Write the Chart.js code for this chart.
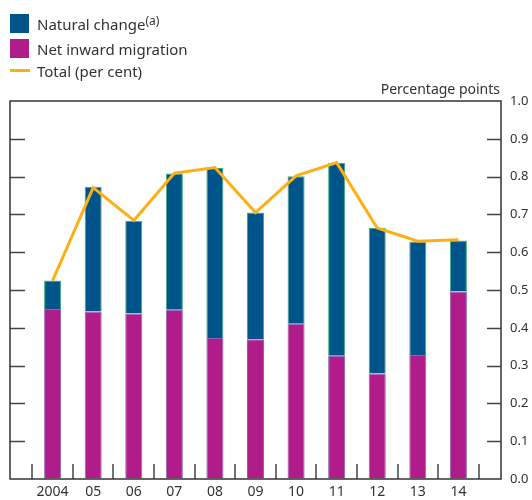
<!DOCTYPE html>
<html>
<head>
<meta charset="utf-8">
<script src="https://cdn.jsdelivr.net/npm/chart.js@4"></script>
<style>
    body { margin: 0; background: #fff; }
    #wrap { position: relative; width: 532px; height: 500px; }
    #legend { position: absolute; left: 0; top: 0; font-family: "Noto Sans", sans-serif; font-size: 15px; color: #333; }
    .item { position: absolute; left: 10px; height: 19px; white-space: nowrap; display: flex; align-items: center; }
    .swatch { width: 19px; height: 19px; margin-right: 8px; }
    .dash { width: 20px; height: 3px; margin-right: 7px; }
    sup { font-size: 12px; line-height: 0; vertical-align: 5px; }
</style>
</head>
<body>
<div id="wrap">
    <canvas id="myChart" width="532" height="500"></canvas>
    <div id="legend"></div>
</div>
<script>
// 카테고리 (연도)
const years = ['2004', '05', '06', '07', '08', '09', '10', '11', '12', '13', '14'];

// 자연 증가 (percentage points)
const naturalChange = [0.075, 0.33, 0.245, 0.36, 0.45, 0.335, 0.39, 0.51, 0.385, 0.30, 0.135];

// 순 이민 유입 (percentage points)
const netMigration = [0.45, 0.443, 0.438, 0.448, 0.373, 0.37, 0.411, 0.326, 0.279, 0.328, 0.496];

// 총 인구 증가율 (per cent)
const total = [0.525, 0.771, 0.684, 0.809, 0.824, 0.705, 0.802, 0.837, 0.664, 0.629, 0.633];

// y축 눈금
const yMin = 0;
const yMax = 1.0;
const yStep = 0.1;

const blue = 'rgb(0, 84, 138)';
const magenta = 'rgb(176, 28, 138)';
const orange = 'rgb(252, 175, 23)';

// 범례 (HTML)
function buildLegend() 
{
    const items = [
        { text: 'Natural change<sup>(a)</sup>', color: blue, kind: 'swatch', top: 14 },
        { text: 'Net inward migration', color: magenta, kind: 'swatch', top: 39 },
        { text: 'Total (per cent)', color: orange, kind: 'dash', top: 61 }
    ];
    const legend = document.getElementById('legend');
    items.forEach(it => {
        const row = document.createElement('div');
        row.className = 'item';
        row.style.top = it.top + 'px';
        row.innerHTML = `<span class="${it.kind}" style="background:${it.color}"></span><span>${it.text}</span>`;
        legend.appendChild(row);
    });
}

// 프레임과 안쪽 눈금선 그리기
const framePlugin = {
    id: 'frame',
    afterDraw(chart) 
    {
        const ctx = chart.ctx;
        const area = chart.chartArea;
        const xScale = chart.scales.x;
        const yScale = chart.scales.y;
        ctx.save();

        ctx.strokeStyle = '#444';
        ctx.lineWidth = 1.5;
        ctx.beginPath();
        for (let v = yMin + yStep; v < yMax - 0.001; v += yStep) 
        {
            const y = Math.round(yScale.getPixelForValue(v)) + 0.5;
            ctx.moveTo(area.left, y);
            ctx.lineTo(area.left + 15, y);
            ctx.moveTo(area.right - 14, y);
            ctx.lineTo(area.right, y);
        }
        for (let i = 0; i <= years.length; i++) 
        {
            const x = Math.round(xScale.getPixelForValue(i - 0.5));
            ctx.moveTo(x, area.bottom);
            ctx.lineTo(x, area.bottom - 15);
        }
        ctx.stroke();

        ctx.strokeStyle = '#333';
        ctx.lineWidth = 1.5;
        ctx.strokeRect(area.left, area.top, area.right - area.left, area.bottom - area.top);

        ctx.fillStyle = '#333';
        ctx.font = '14px "Noto Sans"';
        ctx.textAlign = 'right';
        ctx.textBaseline = 'alphabetic';
        ctx.fillText('Percentage points', area.right - 1, area.top - 7);
        ctx.restore();
    }
};

function initializeChart() 
{
    const ctx = document.getElementById('myChart').getContext('2d');
    new Chart(ctx, {
        type: 'bar',
        data: {
            labels: years.map((y, i) => i),
            datasets: [
                {
                    label: 'Net inward migration',
                    data: netMigration,
                    backgroundColor: magenta,
                    borderColor: 'rgb(140, 100, 180)',
                    borderWidth: 1,
                    barPercentage: 0.42,
                    categoryPercentage: 1,
                    order: 1
                },
                {
                    label: 'Natural change',
                    data: naturalChange,
                    backgroundColor: blue,
                    borderColor: 'rgb(60, 175, 120)',
                    borderWidth: 1,
                    barPercentage: 0.42,
                    categoryPercentage: 1,
                    order: 1
                },
                {
                    type: 'line',
                    label: 'Total (per cent)',
                    data: total,
                    stack: 'total',
                    borderColor: orange,
                    borderWidth: 3,
                    pointRadius: 0,
                    tension: 0,
                    order: 0
                }
            ]
        },
        options: {
            responsive: false,
            animation: false,
            devicePixelRatio: 1,
            layout: { padding: { left: 10, top: 101, right: 0, bottom: 0 } },
            plugins: {
                legend: { display: false },
                tooltip: { enabled: false }
            },
            scales: {
                x: {
                    type: 'linear',
                    offset: false,
                    stacked: true,
                    min: -1.05,
                    max: 11.05,
                    afterBuildTicks: scale => { scale.ticks = years.map((y, i) => ({ value: i })); },
                    afterFit: scale => { scale.height = 21; },
                    grid: { display: false, drawTicks: false },
                    border: { display: false },
                    ticks: {
                        autoSkip: false,
                        maxRotation: 0,
                        padding: 5,
                        color: '#333',
                        font: { family: 'Noto Sans', size: 14 },
                        callback: (value, index) => years[index]
                    }
                },
                y: {
                    position: 'right',
                    stacked: true,
                    min: yMin,
                    max: yMax,
                    afterFit: scale => { scale.width = 31; },
                    grid: { drawOnChartArea: false, drawTicks: false },
                    border: { display: false },
                    ticks: {
                        stepSize: yStep,
                        padding: 9,
                        color: '#333',
                        font: { family: 'Noto Sans', size: 13 },
                        callback: value => value.toFixed(1)
                    }
                }
            }
        },
        plugins: [framePlugin]
    });
}

buildLegend();
initializeChart();
</script>
</body>
</html>
